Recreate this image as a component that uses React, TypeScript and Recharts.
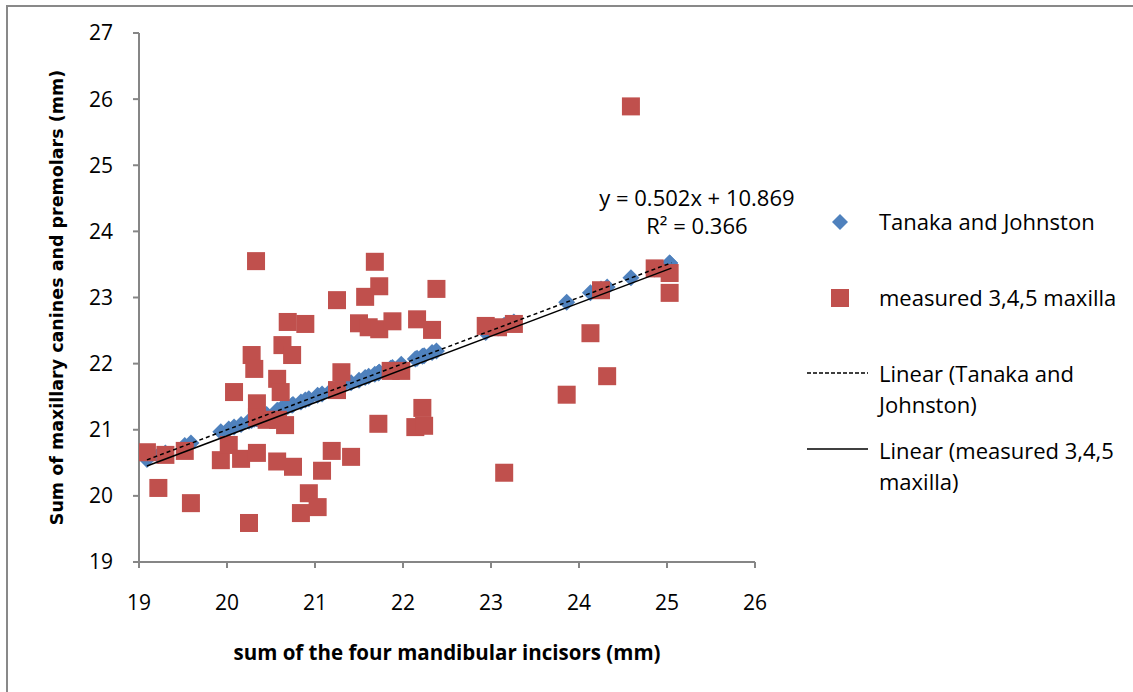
import React from 'react';
import { ScatterChart, Scatter, XAxis, YAxis, ReferenceDot } from 'recharts';

// sum of the four mandibular incisors (mm)
const incisorSum = [
  19.09, 19.22, 19.3, 19.52, 19.59, 19.93, 20.02, 20.08, 20.16, 20.25,
  20.28, 20.31, 20.33, 20.34, 20.34, 20.34, 20.45, 20.57, 20.57, 20.58,
  20.61, 20.63, 20.66, 20.69, 20.74, 20.75, 20.84, 20.89, 20.93, 21.03,
  21.08, 21.19, 21.25, 21.25, 21.3, 21.41, 21.5, 21.57, 21.61, 21.68,
  21.72, 21.73, 21.73, 21.86, 21.88, 21.98, 22.14, 22.16, 22.22, 22.24,
  22.33, 22.38, 22.94, 23.08, 23.15, 23.26, 23.86, 24.13, 24.25, 24.32,
  24.59, 24.86, 25.03, 25.03,
];

// measured 3,4,5 maxilla (mm)
const measured = [
  20.66, 20.12, 20.62, 20.68, 19.89, 20.54, 20.77, 21.57, 20.56, 19.59,
  22.13, 21.92, 23.55, 20.65, 21.4, 21.19, 21.15, 20.52, 21.77, 21.15,
  21.57, 22.28, 21.07, 22.63, 22.13, 20.44, 19.74, 22.6, 20.04, 19.83,
  20.38, 20.68, 22.96, 21.6, 21.87, 20.59, 22.61, 23.01, 22.55, 23.54,
  21.09, 23.17, 22.52, 21.89, 22.64, 21.89, 21.04, 22.67, 21.33, 21.06,
  22.51, 23.13, 22.57, 22.55, 20.35, 22.6, 21.53, 22.46, 23.11, 21.81,
  25.89, 23.44, 23.37, 23.07,
];

// Tanaka and Johnston prediction (mm)
const tanaka = [
  20.55, 20.61, 20.65, 20.76, 20.8, 20.97, 21.01, 21.04, 21.08, 21.13,
  21.14, 21.16, 21.17, 21.17, 21.17, 21.17, 21.23, 21.29, 21.29, 21.29,
  21.31, 21.32, 21.33, 21.35, 21.37, 21.38, 21.42, 21.45, 21.47, 21.52,
  21.54, 21.6, 21.63, 21.63, 21.65, 21.71, 21.75, 21.79, 21.81, 21.84,
  21.86, 21.87, 21.87, 21.93, 21.94, 21.99, 22.07, 22.08, 22.11, 22.12,
  22.17, 22.19, 22.47, 22.54, 22.58, 22.63, 22.93, 23.07, 23.13, 23.16,
  23.3, 23.43, 23.52, 23.52,
];

// linear trendline end points
const trendX = [19.09, 25.05];
const tanakaTrend = [20.545, 23.525];
const measuredTrend = [20.452, 23.444];

const xTicks = [19, 20, 21, 22, 23, 24, 25, 26];
const yTicks = [19, 20, 21, 22, 23, 24, 25, 26, 27];

const tanakaData = incisorSum.map((x, i) => ({ x, y: tanaka[i] }));
const measuredData = incisorSum.map((x, i) => ({ x, y: measured[i] }));
const tanakaTrendData = trendX.map((x, i) => ({ x, y: tanakaTrend[i] }));
const measuredTrendData = trendX.map((x, i) => ({ x, y: measuredTrend[i] }));

const BLUE = '#4F81BD';
const RED = '#C0504D';
const AXIS = '#868686';
const FONT = '"Open Sans", sans-serif';

const Diamond = (props: any) => {
  const { cx, cy } = props;
  const r = 8.5;
  return <polygon points={`${cx},${cy - r} ${cx + r},${cy} ${cx},${cy + r} ${cx - r},${cy}`} fill={BLUE} />;
};

const Square = (props: any) => {
  const { cx, cy } = props;
  return <rect x={cx - 9} y={cy - 9} width={18} height={18} fill={RED} />;
};

const NoShape = () => <g />;

const tickStyle = { fontSize: 21, fill: '#000', fontFamily: FONT };

const legendText: React.CSSProperties = {
  position: 'absolute',
  left: 879,
  fontFamily: FONT,
  fontSize: 22,
  lineHeight: '31px',
  color: '#000',
  whiteSpace: 'nowrap',
};

const App: React.FC = () => {
  return (
    <div style={{ position: 'absolute', left: 0, top: 0, width: 1133, height: 692, overflow: 'hidden', background: '#fff' }}>
      <div style={{ position: 'absolute', left: 6, top: 5, width: 1200, height: 800, border: '2px solid #898989' }} />
      <div style={{ position: 'absolute', left: 0, top: 0 }}>
        <ScatterChart width={1133} height={692} margin={{ top: 33, right: 378, bottom: 30, left: 0 }}>
          <XAxis
            type="number"
            dataKey="x"
            domain={[19, 26]}
            ticks={xTicks}
            allowDataOverflow
            height={100}
            stroke={AXIS}
            strokeWidth={2}
            tickSize={6}
            tickMargin={27}
            tick={tickStyle}
            label={{
              content: ({ viewBox }: any) => (
                <text x={viewBox.x + viewBox.width / 2} y={viewBox.y + 90} textAnchor="middle" dominantBaseline="central"
                  style={{ fontFamily: FONT, fontWeight: 700, fontSize: 20.5, fill: '#000' }}>
                  sum of the four mandibular incisors (mm)
                </text>
              ),
            }}
          />
          <YAxis
            type="number"
            dataKey="y"
            domain={[19, 27]}
            ticks={yTicks}
            allowDataOverflow
            width={139}
            stroke={AXIS}
            strokeWidth={2}
            tickSize={6}
            tickMargin={20}
            tick={tickStyle}
            label={{
              content: ({ viewBox }: any) => {
                const cx = 57;
                const cy = viewBox.y + viewBox.height / 2;
                return (
                  <text x={cx} y={cy} textAnchor="middle" dominantBaseline="central" transform={`rotate(-90, ${cx}, ${cy})`}
                    style={{ fontFamily: '"DejaVu Sans", sans-serif', fontWeight: 700, fontSize: 17.5, fill: '#000' }}>
                    Sum of maxillary canines and premolars (mm)
                  </text>
                );
              },
            }}
          />
          <Scatter name="Tanaka and Johnston" data={tanakaData} shape={<Diamond />} isAnimationActive={false} />
          <Scatter name="measured 3,4,5 maxilla" data={measuredData} shape={<Square />} isAnimationActive={false} />
          <Scatter name="Linear (Tanaka and Johnston)" data={tanakaTrendData} shape={<NoShape />} lineType="joint"
            line={{ stroke: '#000', strokeWidth: 1.5, strokeDasharray: '4 3' }} isAnimationActive={false} />
          <Scatter name="Linear (measured 3,4,5 maxilla)" data={measuredTrendData} shape={<NoShape />} lineType="joint"
            line={{ stroke: '#000', strokeWidth: 1.5 }} isAnimationActive={false} />
          <ReferenceDot x={25.34} y={24.505} r={0} stroke="none" fill="none"
            label={{ value: 'y = 0.502x + 10.869', position: 'center', fill: '#000', fontSize: 22, fontFamily: FONT }} />
          <ReferenceDot x={25.34} y={24.08} r={0} stroke="none" fill="none"
            label={{ value: 'R² = 0.366', position: 'center', fill: '#000', fontSize: 22, fontFamily: FONT }} />
        </ScatterChart>
      </div>

      {/* legend */}
      <svg style={{ position: 'absolute', left: 800, top: 200 }} width={80} height={300}>
        <polygon points="40,14 48,22 40,30 32,22" fill={BLUE} />
        <rect x={31} y={89} width={18} height={18} fill={RED} />
        <line x1={7} y1={173} x2={68} y2={173} stroke="#000" strokeWidth={1.5} strokeDasharray="4 2" />
        <line x1={7} y1={249} x2={68} y2={249} stroke="#000" strokeWidth={1.5} />
      </svg>
      <div style={{ ...legendText, top: 206 }}>Tanaka and Johnston</div>
      <div style={{ ...legendText, top: 282 }}>measured 3,4,5 maxilla</div>
      <div style={{ ...legendText, top: 358 }}>Linear (Tanaka and<br />Johnston)</div>
      <div style={{ ...legendText, top: 435 }}>Linear (measured 3,4,5<br />maxilla)</div>
    </div>
  );
};

export default App;
